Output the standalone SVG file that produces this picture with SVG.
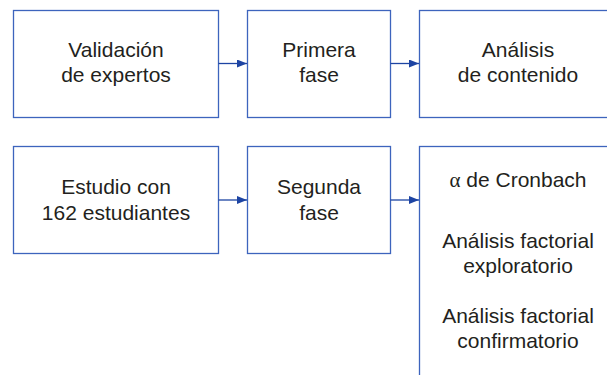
<svg xmlns="http://www.w3.org/2000/svg" width="607" height="375" viewBox="0 0 607 375">
<style>
.box{fill:#fff;stroke:#3d64bd;stroke-width:1.3}
.t{font-family:"Liberation Sans",Arial,sans-serif;font-size:21px;fill:#231f20;text-anchor:middle}
.c{stroke:#1d44a3;stroke-width:1.3;fill:none}
</style>
<defs>
<marker id="ah" markerWidth="10" markerHeight="8" refX="10" refY="4" orient="auto" markerUnits="userSpaceOnUse">
<path d="M0,0 L10,4 L0,8 Z" fill="#1d44a3"/>
</marker>
</defs>
<rect width="607" height="375" fill="#fff"/>
<g id="validacion">
<rect class="box" x="13.5" y="10.5" width="205" height="107"/>
<text class="t" x="116" y="57">Validación</text>
<text class="t" x="116" y="82">de expertos</text>
</g>
<g id="primera">
<rect class="box" x="247.5" y="10.5" width="143" height="107"/>
<text class="t" x="319" y="57">Primera</text>
<text class="t" x="319" y="82">fase</text>
</g>
<g id="analisis">
<rect class="box" x="419.5" y="10.5" width="200" height="107"/>
<text class="t" x="518" y="57">Análisis</text>
<text class="t" x="518" y="82">de contenido</text>
</g>
<g id="estudio">
<rect class="box" x="13.5" y="146.5" width="205" height="107"/>
<text class="t" x="116" y="194">Estudio con</text>
<text class="t" x="116" y="220">162 estudiantes</text>
</g>
<g id="segunda">
<rect class="box" x="247.5" y="146.5" width="143" height="107"/>
<text class="t" x="319" y="194">Segunda</text>
<text class="t" x="319" y="220">fase</text>
</g>
<g id="resultados">
<rect class="box" x="419.5" y="146.5" width="200" height="240"/>
<text class="t" x="518" y="187"><tspan style="font-family:'Liberation Serif',serif">α</tspan> de Cronbach</text>
<text class="t" x="518" y="248">Análisis factorial</text>
<text class="t" x="518" y="273">exploratorio</text>
<text class="t" x="518" y="323">Análisis factorial</text>
<text class="t" x="518" y="348">confirmatorio</text>
</g>
<g id="connectors">
<line class="c" x1="218.5" y1="63.5" x2="247" y2="63.5" marker-end="url(#ah)"/>
<line class="c" x1="390.5" y1="63.5" x2="419" y2="63.5" marker-end="url(#ah)"/>
<line class="c" x1="218.5" y1="200" x2="247" y2="200" marker-end="url(#ah)"/>
<line class="c" x1="390.5" y1="200" x2="419" y2="200" marker-end="url(#ah)"/>
</g>
</svg>
